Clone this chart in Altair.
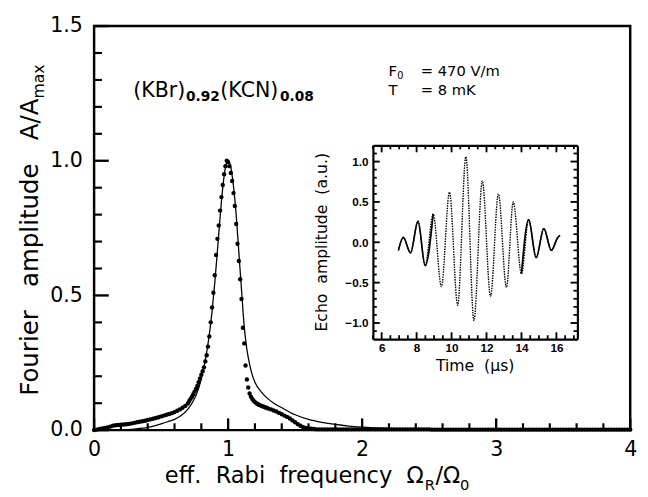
import altair as alt
import pandas as pd

# ---------------- data ----------------
# measured Fourier amplitude (dots); abscissa = sampling grid of Omega_R/Omega_0
def grid(start, step, n):
    return [round(start + i * step, 2) for i in range(n)]

dots_x = grid(0.0, 0.02, 36) + grid(0.71, 0.01, 60) + grid(1.32, 0.02, 135)

dots_y_low = [0.000, 0.002, 0.004, 0.006, 0.008, 0.010, 0.013, 0.016, 0.018, 0.019,
              0.020, 0.021, 0.022, 0.023, 0.025, 0.027, 0.029, 0.031, 0.033, 0.035,
              0.038, 0.040, 0.042, 0.045, 0.048, 0.051, 0.054, 0.057, 0.060, 0.063,
              0.067, 0.072, 0.077, 0.083, 0.090, 0.099]
dots_y_peak = [0.108, 0.116, 0.124, 0.133, 0.143, 0.153, 0.164, 0.178, 0.192, 0.206,
               0.219, 0.233, 0.255, 0.278, 0.310, 0.348, 0.400, 0.455, 0.510, 0.575,
               0.650, 0.710, 0.760, 0.815, 0.865, 0.910, 0.950, 0.980, 1.000, 0.995,
               0.980, 0.955, 0.925, 0.880, 0.832, 0.765, 0.692, 0.628, 0.560, 0.487,
               0.380, 0.322, 0.240, 0.188, 0.158, 0.136, 0.124, 0.116, 0.109, 0.104,
               0.100, 0.097, 0.094, 0.092, 0.090, 0.088, 0.086, 0.084, 0.082, 0.080]
dots_y_tail = [0.077, 0.073, 0.069, 0.064, 0.059, 0.054, 0.049, 0.043, 0.036, 0.029,
               0.022, 0.016, 0.011, 0.008, 0.006, 0.005, 0.004,
               0.003, 0.003, 0.003, 0.003, 0.003, 0.003, 0.003, 0.003, 0.003, 0.003,
               0.003, 0.003, 0.003, 0.003, 0.003, 0.003, 0.003, 0.003, 0.003, 0.003,
               0.003, 0.003, 0.003, 0.003, 0.003, 0.003, 0.003, 0.003, 0.003, 0.003,
               0.003, 0.003, 0.003, 0.003, 0.003, 0.003, 0.003, 0.003, 0.003, 0.003,
               0.003, 0.003, 0.003,
               0.002, 0.002, 0.002, 0.002, 0.002, 0.002, 0.002, 0.002, 0.002, 0.002,
               0.002, 0.002, 0.002, 0.002, 0.002, 0.002, 0.002, 0.002, 0.002, 0.002,
               0.002, 0.002, 0.002, 0.002, 0.002, 0.002, 0.002, 0.002, 0.002, 0.002,
               0.002, 0.002, 0.002, 0.002, 0.002, 0.002, 0.002, 0.002, 0.002, 0.002,
               0.002, 0.002, 0.002, 0.002, 0.002, 0.002, 0.002, 0.002, 0.002, 0.002,
               0.002, 0.002, 0.002, 0.002, 0.002, 0.002, 0.002, 0.002, 0.002, 0.002,
               0.002, 0.002, 0.002, 0.002, 0.002, 0.002, 0.002, 0.002, 0.002, 0.002,
               0.002, 0.002, 0.002, 0.002, 0.002]
dots_y = dots_y_low + dots_y_peak + dots_y_tail

# calculated curve (solid line)
fit_x = [0.00, 0.10, 0.20, 0.30, 0.40, 0.45, 0.50, 0.55, 0.60, 0.65, 0.70, 0.74, 0.78,
         0.82, 0.85, 0.88, 0.90, 0.92, 0.94, 0.96, 0.98, 1.00, 1.02, 1.04, 1.06, 1.08,
         1.10, 1.12, 1.14, 1.16, 1.18, 1.20, 1.25, 1.30, 1.35, 1.40, 1.50, 1.60, 1.70,
         1.80, 1.90, 2.00, 2.20, 2.40, 2.60, 3.00, 4.00]
fit_y = [0.000, 0.000, 0.001, 0.004, 0.010, 0.016, 0.023, 0.031, 0.040, 0.054, 0.078,
         0.108, 0.155, 0.235, 0.320, 0.440, 0.545, 0.665, 0.790, 0.900, 0.975, 1.000,
         0.975, 0.905, 0.800, 0.660, 0.520, 0.385, 0.300, 0.245, 0.205, 0.178, 0.140,
         0.115, 0.097, 0.083, 0.057, 0.040, 0.029, 0.021, 0.015, 0.011, 0.006, 0.003,
         0.0015, 0.0005, 0.000]

# inset: echo signal
echo_t = [6.96, 7.24, 7.65, 8.08, 8.49, 8.95, 9.42, 9.88, 10.35, 10.82, 11.28, 11.76,
          12.23, 12.68, 13.14, 13.53, 14.00, 14.41, 14.84, 15.28, 15.71, 16.08, 16.21]
echo_v = [-0.10, 0.06, -0.13, 0.26, -0.29, 0.35, -0.55, 0.62, -0.78, 1.06, -0.97, 0.76,
          -0.67, 0.60, -0.56, 0.50, -0.39, 0.28, -0.19, 0.17, -0.10, 0.06, 0.085]

# tick positions
main_x_major = [0, 1, 2, 3, 4]
main_y_major = [0.0, 0.5, 1.0, 1.5]
main_x_minor = [round(i * 0.2, 1) for i in range(21) if i % 5]
main_y_minor = [round(i * 0.1, 1) for i in range(16) if i % 5]
ins_x_major = [6, 8, 10, 12, 14, 16]
ins_y_major = [-1.0, -0.5, 0.0, 0.5, 1.0]
ins_x_minor = [round(5.5 + 0.5 * i, 1) for i in range(24) if (5.5 + 0.5 * i) % 2]
ins_y_minor = [round(-1.1 + 0.1 * i, 1) for i in range(23) if (i - 1) % 5]

# ---------------- layout ----------------
W, H = 548, 413
FONT = "DejaVu Sans"
SP = "\u00a0"                              # non-collapsing space
IX0, IX1, IY0, IY1 = 285, 494, 320, 122   # inset frame in plot pixels

df_dots = pd.DataFrame({"x": dots_x, "y": dots_y})
df_fit = pd.DataFrame({"x": fit_x, "y": fit_y})
df_echo = pd.DataFrame({"t": echo_t, "v": echo_v})
one = pd.DataFrame({"k": [0]})

mxs = alt.Scale(domain=[0, 4], nice=False, zero=False)
mys = alt.Scale(domain=[0, 1.5], nice=False, zero=False)
ixs = alt.Scale(domain=[5.5, 17.2], range=[IX0, IX1], nice=False, zero=False)
iys = alt.Scale(domain=[-1.2, 1.2], range=[IY0, IY1], nice=False, zero=False)


def xticks(values, scale, y0, y1, width):
    return alt.Chart(pd.DataFrame({"v": values})).mark_rule(
        color="black", strokeWidth=width, strokeCap="butt").encode(
        x=alt.X("v:Q", scale=scale, axis=None),
        y=alt.value(y0), y2=alt.value(y1))


def yticks(values, scale, x0, x1, width):
    return alt.Chart(pd.DataFrame({"v": values})).mark_rule(
        color="black", strokeWidth=width, strokeCap="butt").encode(
        y=alt.Y("v:Q", scale=scale, axis=None),
        x=alt.value(x0), x2=alt.value(x1))


dots = alt.Chart(df_dots).mark_circle(size=20, color="black", opacity=1).encode(
    x=alt.X("x:Q", scale=mxs, axis=alt.Axis(
        orient="bottom", values=main_x_major, format="d", ticks=False, tickSize=0,
        domain=False, grid=False, labelFont=FONT, labelFontSize=21, labelPadding=9,
        labelFlush=False, labelOverlap=False, title=None)),
    y=alt.Y("y:Q", scale=mys, axis=alt.Axis(
        orient="left", values=main_y_major, format=".1f", ticks=False, tickSize=0,
        domain=False, grid=False, labelFont=FONT, labelFontSize=21, labelPadding=12,
        labelFlush=False, labelOverlap=False, title=None)),
)

fit = alt.Chart(df_fit).mark_line(color="black", strokeWidth=1.3, interpolate="monotone").encode(
    x=alt.X("x:Q", scale=mxs, axis=None),
    y=alt.Y("y:Q", scale=mys, axis=None),
)

echo = alt.Chart(df_echo).mark_line(
    color="black", strokeWidth=1.4, strokeDash=[1.5, 1.1], interpolate="monotone"
).encode(
    x=alt.X("t:Q", scale=ixs, axis=alt.Axis(
        orient="bottom", offset=-(H - IY0), values=ins_x_major, format="d",
        ticks=False, tickSize=0, domain=True, domainWidth=2.2, grid=False,
        labelFont="Liberation Sans", labelFontWeight="bold", labelFontSize=12,
        labelPadding=4, labelFlush=False, labelOverlap=False, title=None)),
    y=alt.Y("v:Q", scale=iys, axis=alt.Axis(
        orient="left", offset=-IX0, values=ins_y_major, format=".1f",
        ticks=False, tickSize=0, domain=True, domainWidth=2.2, grid=False,
        labelFont="Liberation Sans", labelFontWeight="bold", labelFontSize=12,
        labelPadding=5, labelFlush=False, labelOverlap=False, title=None)),
)

# slow outer lobes look solid in the original (dense samples)
echo_solid = alt.Chart(df_echo).transform_filter(
    "datum.t <= 8.95 || datum.t >= 14.0"
).transform_calculate(
    seg="datum.t < 11 ? 'a' : 'b'"
).mark_line(color="black", strokeWidth=1.7, interpolate="monotone").encode(
    x=alt.X("t:Q", scale=ixs, axis=None),
    y=alt.Y("v:Q", scale=iys, axis=None),
    detail="seg:N",
)

# top and right sides of the inset frame
ins_frame = alt.Chart(df_echo).mark_line(strokeOpacity=0).encode(
    x=alt.X("t:Q", scale=ixs, axis=alt.Axis(
        orient="bottom", offset=-(H - IY1), labels=False, ticks=False,
        domain=True, domainWidth=2.2, grid=False, title=None)),
    y=alt.Y("v:Q", scale=iys, axis=alt.Axis(
        orient="left", offset=-IX1, labels=False, ticks=False,
        domain=True, domainWidth=2.2, grid=False, title=None)),
)

tick_layers = [
    # main panel: inward ticks on bottom and left
    xticks(main_x_major, mxs, H, H - 12, 2.4),
    xticks(main_x_minor, mxs, H, H - 7, 2.2),
    yticks(main_y_major, mys, 0, 15, 2.4),
    yticks(main_y_minor, mys, 0, 8, 2.2),
    # inset: inward ticks on all four sides
    xticks(ins_x_major, ixs, IY0, IY0 - 7, 1.9),
    xticks(ins_x_minor, ixs, IY0, IY0 - 4, 1.8),
    xticks(ins_x_major, ixs, IY1, IY1 + 7, 1.9),
    xticks(ins_x_minor, ixs, IY1, IY1 + 4, 1.8),
    yticks(ins_y_major, iys, IX0, IX0 + 7, 1.9),
    yticks(ins_y_minor, iys, IX0, IX0 + 4, 1.8),
    yticks(ins_y_major, iys, IX1, IX1 - 7, 1.9),
    yticks(ins_y_minor, iys, IX1, IX1 - 4, 1.8),
]


def txt(text, x, y, size, align="left", angle=0, weight="normal", font=FONT):
    return alt.Chart(one).mark_text(
        text=text, align=align, baseline="alphabetic", angle=angle,
        fontSize=size, fontWeight=weight, font=font, color="black",
    ).encode(x=alt.value(x), y=alt.value(y))


S3 = SP * 3
S2 = SP * 2
texts = [
    # x-axis title: eff. Rabi frequency Ω_R/Ω_0
    txt("eff." + S2 + "Rabi" + S2 + "frequency" + S2 + "Ω", 337, 467, 23, align="right"),
    txt("R", 338, 474, 15),
    txt("/Ω", 349, 467, 23),
    txt("0", 374, 474, 15),
    # y-axis title: Fourier amplitude A/A_max
    txt("Fourier" + S3 + "amplitude" + S3 + "A/A", -57, 74, 25, align="right", angle=270),
    txt("max", -51, 74, 16, align="left", angle=270),
    # compound
    txt("(KBr)", 40, 73, 21),
    txt("0.92", 94, 77, 14, weight="bold"),
    txt("(KCN)", 129, 73, 21),
    txt("0.08", 190, 77, 14, weight="bold"),
    # conditions
    txt("F", 301, 51, 15),
    txt("0", 310, 54, 10),
    txt("= 470 V/m", 334, 51, 15),
    txt("T", 301, 70, 15),
    txt("= 8 mK", 334, 70, 15),
    # inset titles
    txt("Time" + S2 + "(μs)", (IX0 + IX1) / 2, 353, 16, align="center"),
    txt("Echo" + S2 + "amplitude" + S2 + "(a.u.)", 238, (IY0 + IY1) / 2, 16,
        align="center", angle=270),
]

chart = alt.layer(
    dots, fit, echo, echo_solid, ins_frame, *tick_layers, *texts
).resolve_scale(
    x="independent", y="independent"
).resolve_axis(
    x="independent", y="independent"
).properties(
    width=W, height=H, autosize="none",
    padding={"left": 88, "top": 13, "right": 10, "bottom": 68},
).configure_view(
    stroke="black", strokeWidth=2.5
).configure_axis(
    labelColor="black", tickColor="black", domainColor="black"
)

chart.save("out.html", embed_options={"renderer": "svg", "actions": False})
